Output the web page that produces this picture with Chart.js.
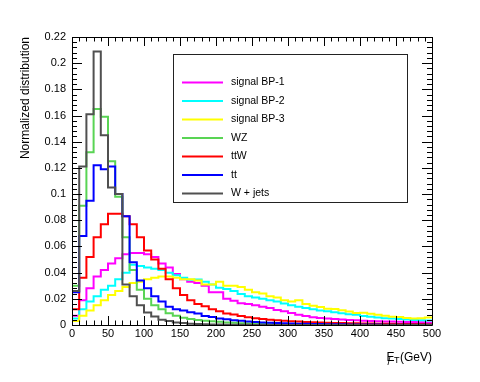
<!DOCTYPE html>
<html>
<head>
<meta charset="utf-8">
<script src="https://cdn.jsdelivr.net/npm/chart.js@4.4.0/dist/chart.umd.min.js"></script>
<style>
html, body { margin: 0; padding: 0; background: #fff; }
#wrap { position: relative; width: 480px; height: 382px; }
</style>
</head>
<body>
<div id="wrap"><canvas id="histChart" width="480" height="382"></canvas></div>
<script>
// bin width 10 GeV, 0-500
var binWidth = 10;
var nBins = 50;

var seriesNames = ['signal BP-1', 'signal BP-2', 'signal BP-3', 'WZ', 'ttW', 'tt', 'W + jets'];
var seriesColors = ['#ff00ff', '#00ffff', '#ffff00', '#59d454', '#ff0000', '#0000ff', '#505050'];

var bp1 = [0.007, 0.019, 0.028, 0.037, 0.042, 0.047, 0.051, 0.054, 0.055, 0.055,
           0.054, 0.052, 0.047, 0.044, 0.039, 0.035, 0.033, 0.032, 0.030, 0.025,
           0.025, 0.020, 0.0185, 0.0166, 0.016, 0.015, 0.014, 0.013, 0.0115, 0.0105,
           0.0092, 0.0078, 0.0068, 0.006, 0.0054, 0.0049, 0.0045, 0.0042, 0.0039, 0.0036,
           0.0033, 0.0031, 0.0029, 0.0027, 0.0026, 0.0024, 0.0023, 0.0022, 0.0021, 0.002];
var bp2 = [0.005, 0.012, 0.018, 0.022, 0.027, 0.030, 0.035, 0.040, 0.046, 0.045,
           0.044, 0.043, 0.042, 0.040, 0.038, 0.036, 0.0345, 0.0347, 0.033, 0.031,
           0.0285, 0.0275, 0.026, 0.0236, 0.022, 0.021, 0.020, 0.019, 0.018, 0.0165,
           0.015, 0.014, 0.013, 0.012, 0.011, 0.0105, 0.0098, 0.009, 0.0082, 0.0078,
           0.0068, 0.0063, 0.0057, 0.0052, 0.0049, 0.0045, 0.0042, 0.0039, 0.0036, 0.0034];
var bp3 = [0.003, 0.007, 0.011, 0.015, 0.019, 0.023, 0.026, 0.029, 0.032, 0.033,
           0.035, 0.036, 0.037, 0.037, 0.036, 0.035, 0.035, 0.034, 0.031, 0.031,
           0.033, 0.030, 0.030, 0.029, 0.027, 0.025, 0.024, 0.022, 0.021, 0.019,
           0.018, 0.019, 0.016, 0.0148, 0.0138, 0.0125, 0.0122, 0.0112, 0.0103, 0.0092,
           0.0094, 0.0086, 0.0078, 0.0071, 0.0063, 0.0062, 0.0054, 0.0049, 0.0052, 0.0058];
var wz  = [0.030, 0.091, 0.132, 0.165, 0.159, 0.125, 0.098, 0.067, 0.042, 0.027,
           0.020, 0.015, 0.012, 0.009, 0.007, 0.0055, 0.0045, 0.0038, 0.0033, 0.0028,
           0.0024, 0.002, 0.0017, 0.0014, 0.0012, 0.001, 0.0008, 0.0007, 0.0006, 0.0005,
           0.0004, 0.0004, 0.0003, 0.0003, 0.0002, 0.0002, 0.0002, 0.0001, 0.0001, 0.0001,
           0.0001, 0.0001, 0, 0, 0, 0, 0, 0, 0, 0];
var ttw = [0.012, 0.036, 0.052, 0.067, 0.077, 0.085, 0.085, 0.083, 0.077, 0.067,
           0.057, 0.050, 0.043, 0.035, 0.028, 0.023, 0.019, 0.016, 0.0143, 0.012,
           0.0105, 0.0088, 0.008, 0.0068, 0.006, 0.0052, 0.0046, 0.004, 0.0036, 0.0032,
           0.0028, 0.0026, 0.0023, 0.0021, 0.0019, 0.0017, 0.0016, 0.0015, 0.0014, 0.0013,
           0.0012, 0.0011, 0.001, 0.001, 0.0009, 0.0008, 0.0008, 0.0007, 0.0007, 0.0006];
var tt  = [0.025, 0.068, 0.095, 0.122, 0.119, 0.121, 0.100, 0.083, 0.048, 0.034,
           0.028, 0.022, 0.018, 0.014, 0.012, 0.011, 0.0098, 0.0087, 0.0068, 0.0062,
           0.005, 0.0043, 0.0037, 0.0032, 0.0027, 0.0023, 0.002, 0.0017, 0.0015, 0.0013,
           0.0011, 0.001, 0.0009, 0.0008, 0.0007, 0.0006, 0.0005, 0.0005, 0.0004, 0.0004,
           0.0003, 0.0003, 0.0003, 0.0002, 0.0002, 0.0002, 0.0002, 0.0001, 0.0001, 0.0001];
var wjets = [0.026, 0.121, 0.161, 0.209, 0.145, 0.105, 0.100, 0.031, 0.022, 0.015,
           0.0095, 0.0065, 0.004, 0.003, 0.002, 0.0015, 0.001, 0.0008, 0.0005, 0.0004,
           0.0003, 0.0002, 0.0002, 0.0001, 0.0001, 0, 0, 0, 0, 0,
           0, 0, 0, 0, 0, 0, 0, 0, 0, 0,
           0, 0, 0, 0, 0, 0, 0, 0, 0, 0];

var xTickValues = [0, 50, 100, 150, 200, 250, 300, 350, 400, 450, 500];
var yTickValues = [0, 0.02, 0.04, 0.06, 0.08, 0.1, 0.12, 0.14, 0.16, 0.18, 0.2, 0.22];

var allSeries = [bp1, bp2, bp3, wz, ttw, tt, wjets];

// histogram outline: one point at each left bin edge, plus closing point at 500
function toSteps(vals) {
    var pts = [];
    for (var i = 0; i <= nBins; i++) {
        pts.push({ x: i * binWidth, y: vals[Math.min(i, nBins - 1)] });
    }
    return pts;
}

var datasets = allSeries.map(function (vals, i) {
    return {
        label: seriesNames[i],
        data: toSteps(vals),
        borderColor: seriesColors[i],
        borderWidth: 2,
        stepped: 'before',
        pointRadius: 0,
        fill: false,
        order: allSeries.length - i
    };
});

var rootFrame = {
    id: 'rootFrame',
    afterDatasetsDraw: function (chart) {
        var ctx = chart.ctx;
        var a = chart.chartArea;
        var xs = chart.scales.x, ys = chart.scales.y;
        ctx.save();
        ctx.strokeStyle = '#000';
        ctx.lineWidth = 1;
        ctx.beginPath();
        ctx.rect(Math.round(a.left) + 0.5, Math.round(a.top) + 0.5,
                 Math.round(a.right - a.left), Math.round(a.bottom - a.top));
        ctx.stroke();

        // x ticks, every 10 GeV, major every 50
        ctx.beginPath();
        for (var v = 0; v <= 500; v += 10) {
            var px = Math.round(xs.getPixelForValue(v)) + 0.5;
            var len = (v % 50 === 0) ? 9 : 4.5;
            ctx.moveTo(px, a.bottom); ctx.lineTo(px, a.bottom - len);
            ctx.moveTo(px, a.top); ctx.lineTo(px, a.top + len);
        }
        // y ticks, every 0.004, major every 0.02
        for (var k = 0; k <= 55; k++) {
            var py = Math.round(ys.getPixelForValue(k * 0.004)) + 0.5;
            var l2 = (k % 5 === 0) ? 10 : 5;
            ctx.moveTo(a.left, py); ctx.lineTo(a.left + l2, py);
            ctx.moveTo(a.right, py); ctx.lineTo(a.right - l2, py);
        }
        ctx.stroke();

        // legend box
        var lx = 173.5, ly = 54.5, lw = 234, lh = 148;
        ctx.fillStyle = '#fff';
        ctx.fillRect(lx, ly, lw, lh);
        ctx.strokeStyle = '#222';
        ctx.strokeRect(lx, ly, lw, lh);
        ctx.font = '10.5px "Liberation Sans", Arial, sans-serif';
        ctx.textBaseline = 'middle';
        ctx.textAlign = 'left';
        for (var i = 0; i < seriesNames.length; i++) {
            var ry = 82.5 + i * 18.5;
            ctx.strokeStyle = seriesColors[i];
            ctx.lineWidth = 2;
            ctx.beginPath();
            ctx.moveTo(182, ry); ctx.lineTo(223, ry);
            ctx.stroke();
            ctx.fillStyle = '#000';
            ctx.fillText(seriesNames[i], 231, ry);
        }

        // x axis title: missing E_T (GeV)
        var base = 361;
        ctx.fillStyle = '#000';
        ctx.textBaseline = 'alphabetic';
        ctx.font = '12px "Liberation Sans", Arial, sans-serif';
        var wE = ctx.measureText('E').width;
        var wG = ctx.measureText('(GeV)').width;
        ctx.font = '9px "Liberation Sans", Arial, sans-serif';
        var wT = ctx.measureText('T').width;
        var x0 = a.right - (wE + wT + wG);
        ctx.font = '12px "Liberation Sans", Arial, sans-serif';
        ctx.fillText('E', x0, base);
        ctx.fillText('(GeV)', x0 + wE + wT, base);
        ctx.font = '10px "Liberation Sans", Arial, sans-serif';
        ctx.fillText('/', x0 + 1, base + 4);
        ctx.font = '9px "Liberation Sans", Arial, sans-serif';
        ctx.fillText('T', x0 + wE - 0.5, base + 2);
        ctx.restore();
    }
};

new Chart(document.getElementById('histChart'), {
    type: 'line',
    data: { datasets: datasets },
    options: {
        responsive: false,
        animation: false,
        devicePixelRatio: 1,
        layout: { padding: { left: 0, right: 48, top: 37, bottom: 0 } },
        plugins: { legend: { display: false }, tooltip: { enabled: false } },
        scales: {
            x: {
                type: 'linear',
                min: 0, max: 500,
                grid: { display: false, drawTicks: false },
                border: { display: false },
                afterBuildTicks: function (s) { s.ticks = xTickValues.map(function (v) { return { value: v }; }); },
                ticks: { color: '#000', padding: 2, maxRotation: 0, autoSkip: false,
                         font: { family: '"Liberation Sans", Arial, sans-serif', size: 11 } },
                afterFit: function (s) { s.height = 57; }
            },
            y: {
                type: 'linear',
                min: 0, max: 0.22,
                grid: { display: false, drawTicks: false },
                border: { display: false },
                afterBuildTicks: function (s) { s.ticks = yTickValues.map(function (v) { return { value: v }; }); },
                ticks: { color: '#000', padding: 6, autoSkip: false,
                         font: { family: '"Liberation Sans", Arial, sans-serif', size: 11 },
                         callback: function (v) { return String(+v.toFixed(2)); } },
                title: { display: true, text: 'Normalized distribution', align: 'end', color: '#000',
                         padding: { top: 18, bottom: 0 },
                         font: { family: '"Liberation Sans", Arial, sans-serif', size: 12 } },
                afterFit: function (s) { s.width = 72; }
            }
        }
    },
    plugins: [rootFrame]
});
</script>
</body>
</html>
